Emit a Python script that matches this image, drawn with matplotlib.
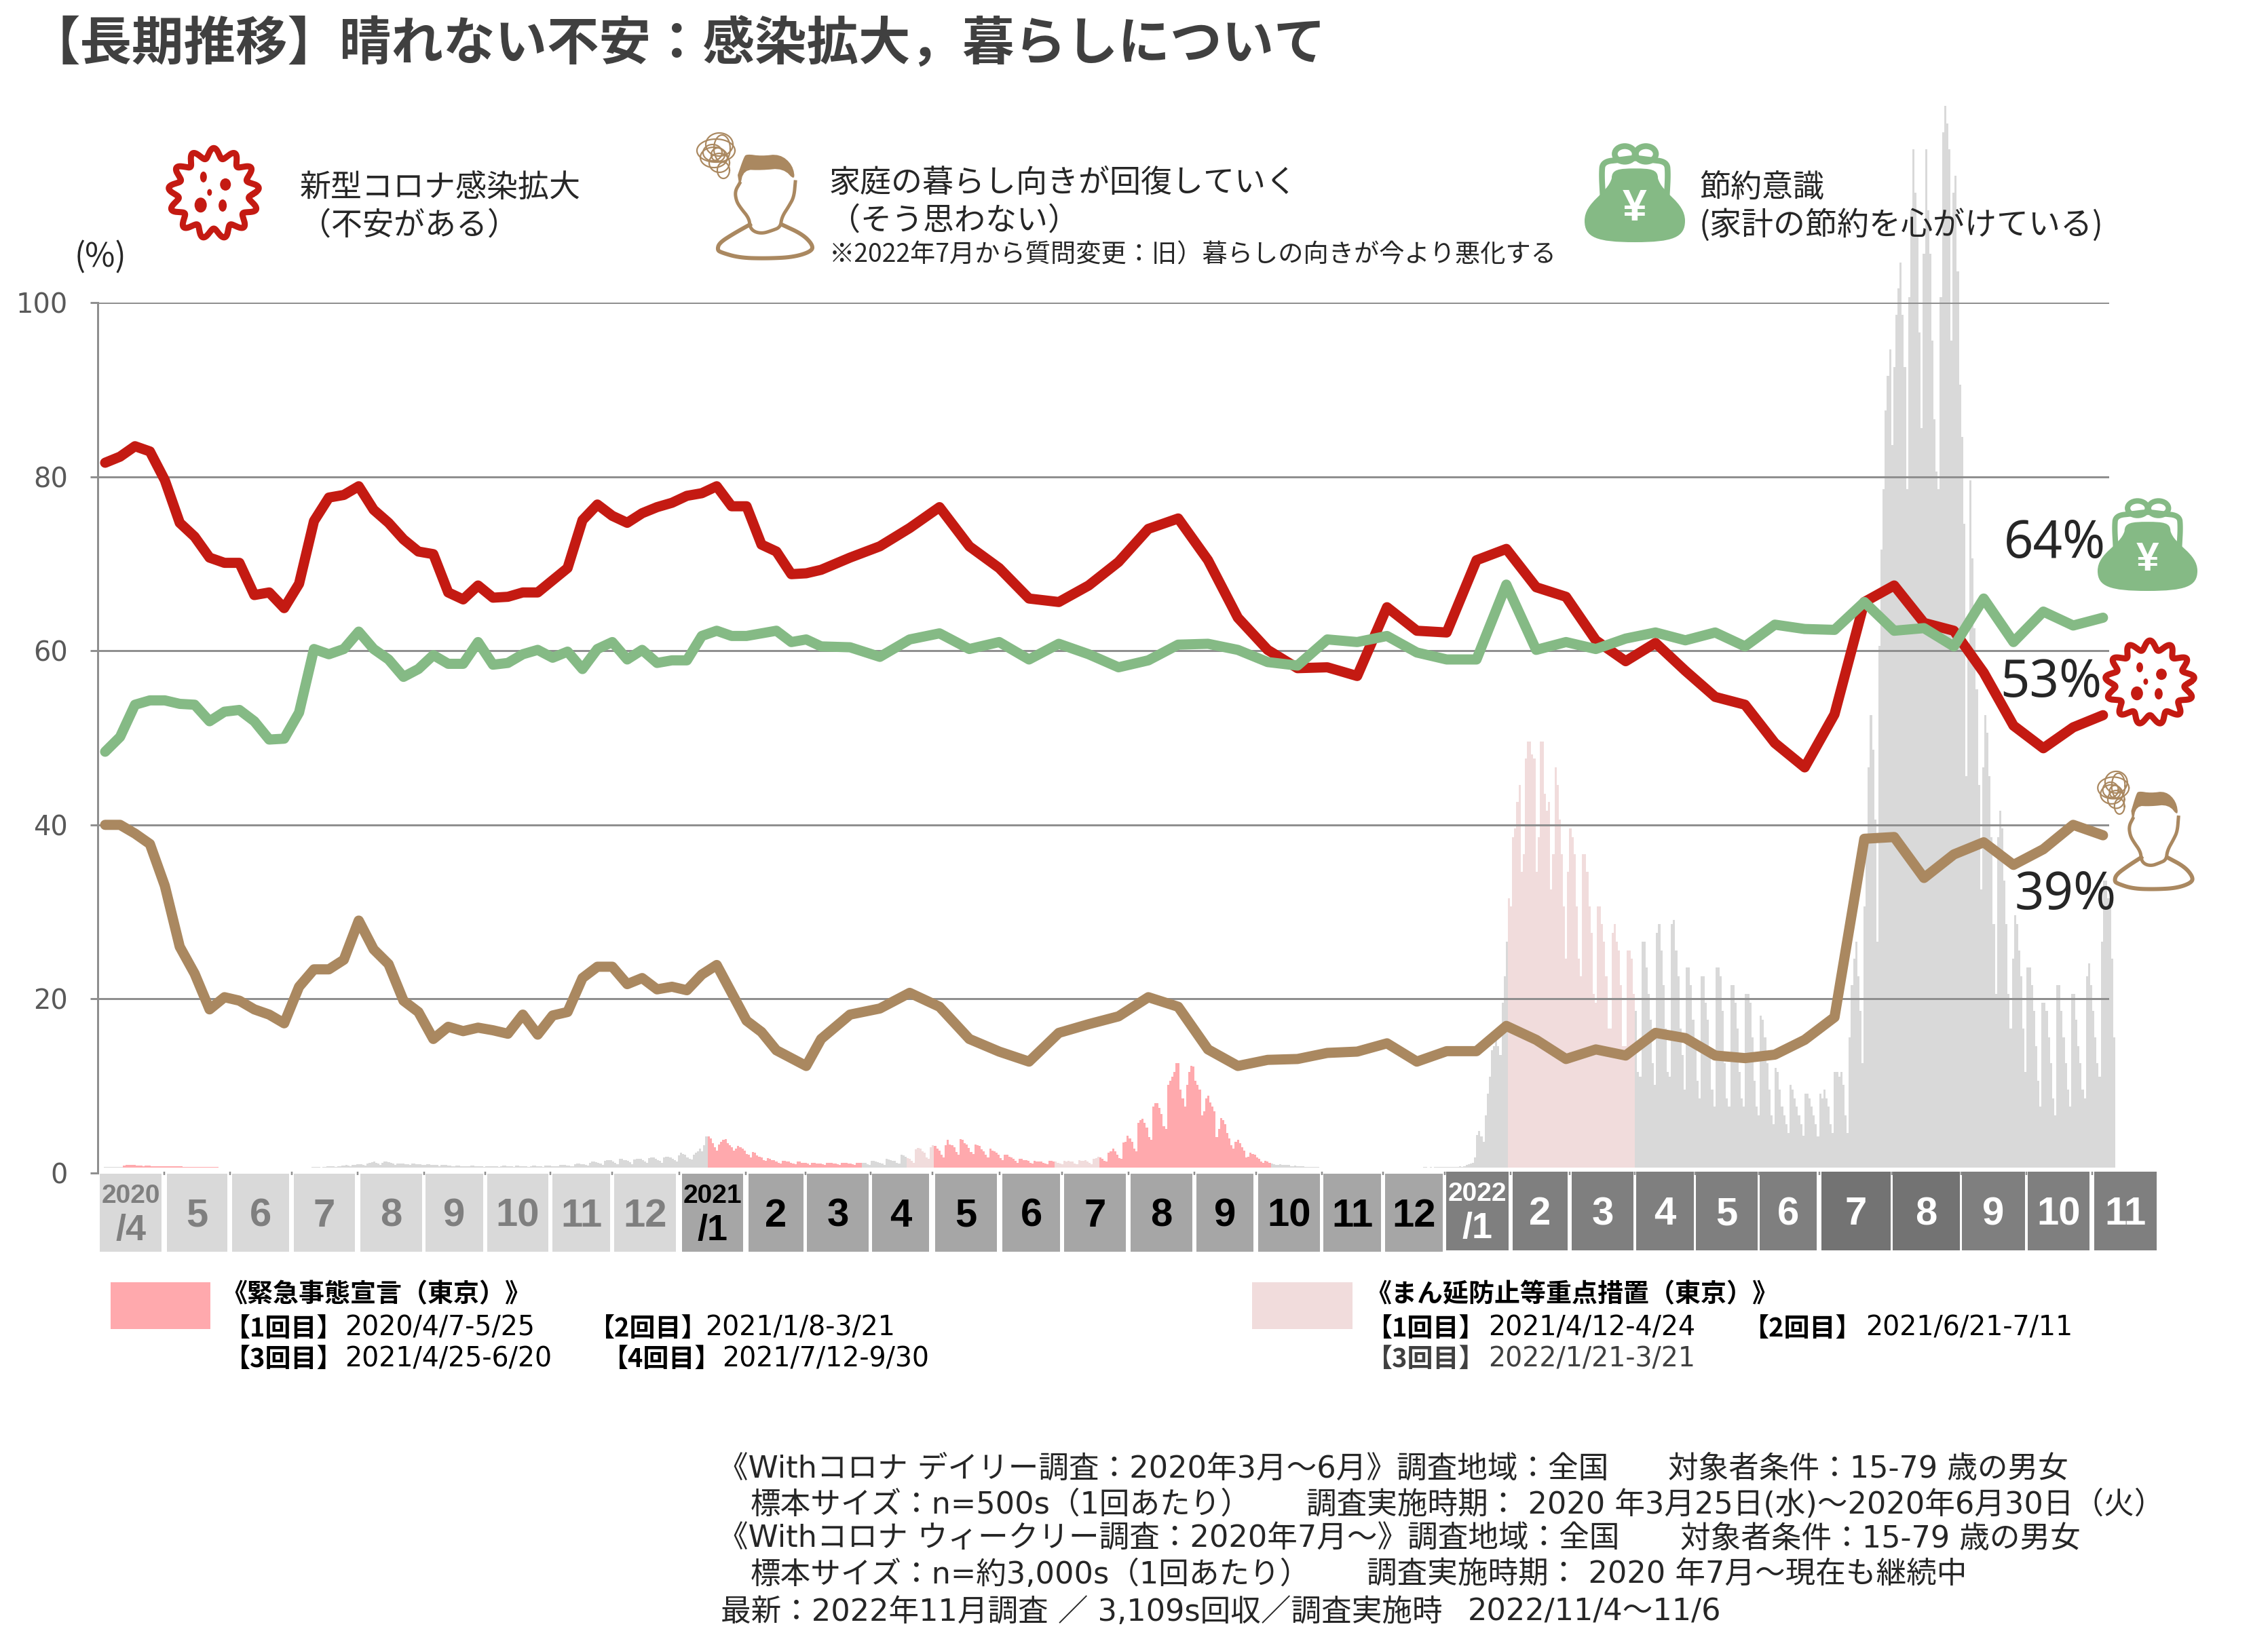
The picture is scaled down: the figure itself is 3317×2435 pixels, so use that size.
import numpy as np
import pandas as pd
import matplotlib
matplotlib.use("Agg")
import matplotlib.pyplot as plt
from matplotlib.patches import Rectangle, Ellipse, PathPatch
from matplotlib.path import Path

plt.rcParams['font.family'] = ['Noto Sans CJK JP', 'DejaVu Sans']

W, H = 3317, 2435
DPI = 100
PT = 72 / DPI  # points per output pixel

# ---------- survey results (%) ----------
virus_weekly = [81.6, 82.3, 83.5, 82.9, 79.6, 74.7, 73.1, 70.7, 70.1, 70.1, 66.4, 66.7, 64.9, 67.7, 74.9, 77.6,
                77.9, 78.9, 76.2, 74.7, 72.8, 71.4, 71.1, 66.7, 65.9, 67.5, 66.1, 66.2, 66.7, 66.7, 68.1, 69.5,
                75.0, 76.8, 75.5, 74.7, 75.8, 76.5, 77.0, 77.8, 78.1, 78.9, 76.6, 76.6, 72.2, 71.4, 68.8, 68.9, 69.3]
virus_biweekly = [70.7, 72.0, 74.1, 76.5, 72.0, 69.5, 66.0, 65.6, 67.5, 70.2, 74.0, 75.2, 70.4, 63.8, 60.1, 58.0,
                  58.1, 57.1, 65.0, 62.3, 62.1, 70.4, 71.7, 67.3, 66.2, 61.2, 58.8, 60.9, 57.7, 54.7, 53.8, 49.4,
                  46.6, 52.7, 65.6, 67.5, 63.2, 62.3, 57.5, 51.4, 48.8, 51.2, 52.6]
saving_weekly = [48.4, 50.1, 53.8, 54.3, 54.3, 53.9, 53.8, 51.9, 53.0, 53.2, 51.9, 49.8, 49.9, 52.9, 60.2, 59.6,
                 60.2, 62.2, 60.2, 59.0, 57.0, 57.9, 59.5, 58.5, 58.5, 61.0, 58.4, 58.6, 59.6, 60.1, 59.2, 59.9,
                 57.9, 60.2, 61.0, 59.0, 60.1, 58.6, 58.9, 58.9, 61.7, 62.3, 61.7, 61.7, 62.0, 62.3, 61.0, 61.3, 60.5]
saving_biweekly = [60.4, 59.3, 61.3, 62.0, 60.2, 61.0, 59.0, 60.8, 59.6, 58.1, 58.9, 60.7, 60.8, 60.1, 58.7, 58.3,
                   61.3, 61.0, 61.7, 59.8, 59.0, 59.0, 67.6, 60.1, 61.0, 60.2, 61.4, 62.1, 61.2, 62.1, 60.5, 63.0,
                   62.5, 62.4, 65.6, 62.3, 62.6, 60.5, 66.0, 61.0, 64.5, 62.9, 63.8]
living_weekly = [40.0, 40.0, 39.0, 37.8, 33.0, 26.0, 22.9, 18.8, 20.2, 19.8, 18.8, 18.2, 17.2, 21.4, 23.4, 23.4,
                 24.5, 29.0, 25.7, 24.0, 19.8, 18.5, 15.4, 16.8, 16.3, 16.7, 16.4, 16.0, 18.2, 15.9, 18.1, 18.5,
                 22.4, 23.7, 23.7, 21.7, 22.4, 21.1, 21.4, 21.0, 22.8, 23.9, 20.7, 17.5, 16.2, 14.1, 13.2, 12.3, 15.4]
living_biweekly = [18.2, 18.9, 20.7, 19.1, 15.4, 13.95, 12.8, 16.1, 17.1, 18.0, 20.2, 19.1, 14.2, 12.3, 13.0, 13.1,
                   13.8, 13.95, 14.9, 12.8, 14.0, 14.0, 16.9, 15.3, 13.1, 14.2, 13.5, 16.1, 15.5, 13.5, 13.2, 13.6,
                   15.3, 17.9, 38.4, 38.6, 33.9, 36.6, 38.0, 35.4, 37.2, 40.0, 38.8]

# Daily newly infected in Tokyo, on the scale of the percent axis, one row per week
first_case_day = -3
cases_to_jan2021 = [
    .1, .1, .1, .1, .1,
    .1, .1, .1, .1, .25, .3, .3,
    .3, .3, .3, .25, .25, .25, .2,
    .25, .25, .25, .2, .2, .2, .15,
    .2, .2, .2, .2, .15, .15, .15,
    .15, .15, .15, .15, .1, .1, .1,
    .1, .1, .1, .1, .1, .1, .1,
    .1, .1, .1, .1, .1, .1, .1,
    .05, .05, .05, .05, .05, .05, .05,
    .05, .05, .05, .05, .05, .05, .05,
    .05, .05, .05, .05, .05, .05, .05,
    .05, .05, .05, .05, .05, .05, .05,
    .05, .05, .05, .05, .05, .05, .05,
    .05, .05, .05, .05, .05, .05, .05,
    .05, .05, .1, .1, .1, .1, .05,
    .1, .1, .15, .15, .15, .15, .1,
    .2, .2, .25, .25, .3, .25, .15,
    .3, .35, .4, .4, .4, .35, .25,
    .5, .6, .65, .7, .6, .5, .35,
    .6, .7, .7, .65, .6, .5, .35,
    .5, .5, .5, .5, .45, .4, .3,
    .5, .5, .45, .4, .4, .35, .3,
    .4, .4, .35, .35, .3, .3, .2,
    .3, .3, .3, .25, .25, .2, .15,
    .25, .25, .2, .2, .2, .15, .15,
    .25, .25, .2, .2, .2, .15, .1,
    .2, .2, .2, .2, .15, .15, .1,
    .2, .25, .25, .2, .2, .15, .1,
    .25, .25, .2, .2, .2, .15, .1,
    .2, .25, .25, .2, .2, .15, .1,
    .25, .25, .25, .2, .2, .2, .15,
    .3, .3, .3, .25, .25, .2, .15,
    .4, .5, .5, .45, .4, .35, .25,
    .6, .7, .7, .65, .6, .5, .35,
    .8, .9, .9, .85, .75, .6, .4,
    1.0, 1.0, .9, .9, .8, .65, .45,
    .95, 1.0, 1.05, 1.0, .85, .7, .55,
    1.1, 1.2, 1.2, 1.05, .9, .8, .6,
    1.2, 1.3, 1.3, 1.2, 1.0, .9, .7,
    1.4, 1.7, 1.6, 1.5, 1.2, 1.0, .95,
    1.5, 1.7, 1.9, 2.2, 1.9, 2.6, 3.6,
]
cases_to_jan2022 = [
    3.6, 3.4, 2.8, 2.4, 2.0, 2.7, 3.0,
    3.2, 3.3, 2.8, 2.6, 2.4, 2.0, 2.2,
    2.5, 2.4, 2.2, 2.0, 1.6, 1.5, 1.2,
    1.8, 1.7, 1.4, 1.3, 1.2, .9, .8,
    1.1, 1.0, .9, .9, .7, .6, .5,
    .8, .8, .7, .7, .6, .5, .4,
    .7, .7, .6, .6, .6, .5, .35,
    .6, .6, .5, .5, .5, .4, .35,
    .6, .55, .55, .5, .5, .4, .3,
    .6, .6, .55, .5, .5, .4, .3,
    .6, .6, .6, .55, .55, .4, .3,
    .8, .8, .7, .65, .6, .5, .3,
    1.0, .95, .9, .8, .8, .6, .5,
    1.5, 1.4, 1.3, 1.1, 1.0, .8, .6,
    2.1, 2.3, 2.2, 1.9, 1.7, 1.2, 1.0,
    2.4, 2.6, 2.5, 2.2, 2.0, 1.5, 1.2,
    2.6, 3.2, 2.7, 2.6, 2.4, 1.8, 1.5,
    3.3, 3.2, 2.8, 2.7, 2.3, 1.8, 1.6,
    2.7, 2.6, 2.5, 2.1, 1.9, 1.5, 1.2,
    2.2, 2.0, 1.9, 1.7, 1.5, 1.1, .9,
    1.5, 1.5, 1.3, 1.2, 1.0, .8, .6,
    1.0, 1.0, .9, .9, .8, .6, .5,
    .8, .7, .7, .7, .6, .5, .4,
    .8, .8, .7, .7, .6, .5, .4,
    .8, .7, .8, .7, .7, .5, .4,
    .9, .8, .8, .9, .7, .6, .4,
    1.0, 1.1, 1.3, 1.2, 1.0, .8, .7,
    1.7, 1.9, 2.2, 1.9, 1.5, 1.1, 1.0,
    2.9, 3.0, 3.7, 3.4, 3.0, 2.2, 1.9,
    5.2, 5.5, 5.6, 5.2, 4.6, 3.5, 3.2,
    7.0, 7.4, 7.4, 6.9, 6.2, 4.8, 4.5,
    9.5, 10.0, 10.5, 11.0, 12.0, 12.0, 9.0,
    8.0, 7.0, 9.5, 11.0, 11.7, 11.6, 10.0,
    9.5, 9.0, 6.0, 6.5, 8.0, 8.3, 7.5,
    7.0, 6.5, 3.5, 4.5, 5.7, 5.5, 5.0,
    4.0, 3.4, 2.6, 2.2, 3.0, 3.2, 2.8,
    2.4, 2.0, 1.2, 1.3, 1.7, 1.6, 1.5,
    1.2, 1.0, .7, .6, .8, .7, .6,
    .5, .45, .3, .3, .4, .35, .3,
    .3, .3, .2, .2, .25, .2, .15,
    .2, .15, .1, .1, .1, .1, .1,
    .1, .1, .05, .05, .05, .05, .05,
    .05, .05, .05, .05, .05, .05, .05,
    .05, .05, .05, .05, .05, .05, .05,
    .05, .05, .05, .05, .05, .05, .05,
    .05, .05, .05, .05, .05, .05, .05,
    .05, .05, .05, .05, .05, .05, .05,
    .05, .05, .05, .05, .05, .05, .05,
    .05, .05, .1, .1, .05, .1, .05,
    .1, .1, .1, .1, .1, .1, .1,
]
cases_to_nov2022 = [
    .1, .1, .1, .1, .1, .15, .1,
    .2, .3, .4, .5, .6, 1.2, 3.8,
    4.2, 3.6, 3.0, 6.0, 8.5, 10.5, 13.5,
    14, 15, 14, 13, 19, 22, 26,
    31, 30, 38, 39, 42, 44, 34,
    36, 47, 49, 49, 47.5, 47, 34,
    38, 49, 49, 43, 41, 42, 32,
    36, 46, 44, 40, 36, 30, 24,
    34, 39, 38, 36, 30, 24, 22,
    36, 36, 34, 30, 27, 20, 19,
    30, 30, 28, 26, 22, 16, 16,
    27, 28, 26, 25, 21, 14, 14,
    25, 25, 24, 20, 18, 11, 10.5,
    26, 26, 23, 20, 17, 12, 9.5,
    27, 28, 25, 21, 16, 11, 10.5,
    28, 28.5, 25, 22, 16, 13, 9,
    23, 23, 21, 17, 14, 10, 8,
    22, 22, 19, 17, 13, 9, 7,
    23, 23, 22, 18, 12, 8, 7,
    21, 21, 19, 16, 11, 8, 7,
    20, 20, 19, 15, 10, 7, 6,
    17.5, 17, 15, 12, 9, 6, 5,
    11.5, 11, 9, 7, 6, 5, 4,
    9.5, 9, 8, 7, 6, 5, 3.7,
    8.5, 8.5, 8, 7, 6, 5, 3.6,
    8.5, 8, 9, 8, 7, 5, 4,
    11, 11, 10.5, 11, 9.5, 6, 4,
    15, 21, 24, 26, 22, 18, 12,
    30, 37, 46, 52, 48, 40, 26,
    60, 71, 78, 87, 91, 94, 83,
    92, 98, 101, 104, 98, 92, 78,
    100, 110, 117, 112, 107, 96, 85,
    105, 117, 110, 105, 95, 86, 80,
    78, 100, 119, 122, 120, 117, 95,
    112, 114, 103, 90, 84, 74, 45,
    60, 79, 70, 62, 55, 44, 32,
    46, 52, 50, 45, 38, 28, 20,
    38, 41, 39, 33, 28, 20, 16,
    24, 29, 28, 25, 22, 16, 11,
    23, 23, 21, 18, 14, 10, 7,
    19, 19, 18, 15, 12, 8, 6,
    21, 21, 18, 15, 12, 9, 7,
    20, 20, 17, 14, 12, 9, 8,
    22, 23.5, 21, 18, 15, 12, 10.5,
    26, 33, 33, 31, 31, 24, 15,
]

emergency_periods = [("2020-04-07", "2020-05-25"), ("2021-01-08", "2021-03-21"),
                     ("2021-04-25", "2021-06-20"), ("2021-07-12", "2021-09-30")]
priority_periods = [("2021-04-12", "2021-04-24"), ("2021-06-21", "2021-07-11"),
                    ("2022-01-21", "2022-03-21")]

y_ticks = [0, 20, 40, 60, 80, 100]

month_labels = ["5", "6", "7", "8", "9", "10", "11", "12",
                "2", "3", "4", "5", "6", "7", "8", "9", "10", "11", "12",
                "2", "3", "4", "5", "6", "7", "8", "9", "10", "11"]

# ---------- colours ----------
RED, GREEN, BROWN = "#C41A12", "#85BA85", "#AA8860"
PINK, BLUSH, CASE_GREY = "#FFA9AD", "#F1DCDC", "#D9D9D9"
GRID = "#8F8F8F"
INK = "#262626"

# ---------- figure and pixel-space overlay ----------
fig = plt.figure(figsize=(W / DPI, H / DPI), dpi=DPI, facecolor="white")
AX_L, AX_R, AX_T, AX_B = 144, 3108, 446, 1729
ax = fig.add_axes([AX_L / W, 1 - AX_B / H, (AX_R - AX_L) / W, (AX_B - AX_T) / H])
ov = fig.add_axes([0, 0, 1, 1], zorder=5)
ov.set_xlim(0, W)
ov.set_ylim(H, 0)
ov.axis("off")
ov.patch.set_alpha(0)

# Horizontal scale: one day is 3.12 px, with 2020-04-01 as day 0
DAY_PX, DAY0_PX = 3.12, 164.3
ax.set_xlim((AX_L - DAY0_PX) / DAY_PX, (AX_R - DAY0_PX) / DAY_PX)
ax.set_ylim(0, 100)

# ---------- daily cases ----------
cases = np.array(cases_to_jan2021 + cases_to_jan2022 + cases_to_nov2022)
case_days = first_case_day + np.arange(len(cases))
origin = pd.Timestamp("2020-04-01")


def to_day(text):
    return (pd.Timestamp(text) - origin).days


case_colors = np.array([CASE_GREY] * len(cases), dtype=object)
for start, end in priority_periods:
    case_colors[(case_days >= to_day(start)) & (case_days <= to_day(end))] = BLUSH
for start, end in emergency_periods:
    case_colors[(case_days >= to_day(start)) & (case_days <= to_day(end))] = PINK
CASE_BASE = 0.6
ax.bar(case_days, cases, width=1.0, bottom=CASE_BASE, color=list(case_colors), linewidth=0,
       clip_on=False, zorder=1, antialiased=False)

# ---------- axes furniture ----------
for side in ("top", "right", "bottom"):
    ax.spines[side].set_visible(False)
ax.spines["left"].set_color(GRID)
ax.spines["left"].set_linewidth(3 * PT)
ax.set_xticks([])
ax.set_yticks(y_ticks)
ax.tick_params(axis="y", length=11 * PT, width=3 * PT, color=GRID, labelsize=40 * PT,
               labelcolor="#595959", pad=33 * PT)
for label in ax.get_yticklabels():
    label.set_fontfamily("DejaVu Sans")
for v in y_ticks[1:]:
    ax.axhline(v, color=GRID, lw=3 * PT, zorder=2)

# ---------- survey lines ----------
survey_days = np.concatenate([-3 + 7.045 * np.arange(len(virus_weekly)),
                              348.8 + 14.09 * np.arange(len(virus_biweekly))])
line_style = dict(lw=15 * PT, solid_capstyle="round", solid_joinstyle="round", clip_on=False)
virus = virus_weekly + virus_biweekly
saving = saving_weekly + saving_biweekly
living = living_weekly + living_biweekly
ax.plot(survey_days, virus, color=RED, zorder=3, **line_style)
ax.plot(survey_days, living, color=BROWN, zorder=3, **line_style)
ax.plot(survey_days, saving, color=GREEN, zorder=4, **line_style)


# ---------- pictograms, all in output pixels ----------
def smooth(points, rounds=3):
    p = np.asarray(points, float)
    for _ in range(rounds):
        q = 0.75 * p[:-1] + 0.25 * p[1:]
        r = 0.25 * p[:-1] + 0.75 * p[1:]
        p = np.vstack([p[:1], np.column_stack([q, r]).reshape(-1, 2), p[-1:]])
    return p


def virus_icon(cx, cy, rx, ry):
    theta = np.linspace(0, 2 * np.pi, 721)
    wave = 1 + 0.125 * np.cos(13 * theta + np.pi / 2)
    ov.plot(cx + rx * 0.86 * wave * np.cos(theta), cy + ry * 0.86 * wave * np.sin(theta),
            color=RED, lw=9 * PT, solid_joinstyle="round")
    for dx, dy, rad_x, rad_y in [(-.22, -.35, 5, 8), (.25, -.19, 8, 9), (-.09, -.02, 3.5, 5),
                                 (-.28, .25, 9, 11), (.19, .26, 6, 9)]:
        ov.add_patch(Ellipse((cx + dx * rx, cy + dy * ry), 2 * rad_x * rx / 69, 2 * rad_y * ry / 69,
                             color=RED, lw=0))


def man_icon(x0, y0, sx, sy):
    def place(points):
        p = np.asarray(points, float)
        return np.column_stack([x0 + (p[:, 0] - 1056) * sx, y0 + (p[:, 1] - 228) * sy])

    hair = smooth([(1087, 258), (1096, 232), (1100, 227), (1122, 230), (1149, 227), (1168, 243), (1172, 267),
                   (1154, 248), (1122, 251), (1096, 250), (1090, 277), (1087, 258)], 2)
    ov.fill(*place(hair).T, color=BROWN, lw=0)
    face_left = [(1090, 270), (1083, 282), (1085, 296), (1091, 306), (1104, 322), (1105, 335), (1112, 342),
                 (1124, 344), (1137, 340), (1150, 335), (1152, 320), (1163, 303), (1170, 290), (1172, 268)]
    ov.plot(*place(smooth(face_left)).T, color=BROWN, lw=5 * PT)
    body = [(1105, 331), (1080, 345), (1060, 358), (1057, 368), (1062, 372), (1090, 380), (1130, 381),
            (1170, 379), (1197, 370), (1197, 360), (1182, 345), (1152, 331)]
    ov.plot(*place(smooth(body)).T, color=BROWN, lw=6 * PT)
    loops = [(1060, 213, 20, 17), (1055, 222, 28, 17), (1052, 232, 20, 15), (1060, 240, 15, 14),
             (1066, 251, 9, 12), (1050, 225, 14, 12), (1058, 228, 10, 10), (1064, 219, 12, 20)]
    theta = np.linspace(0, 2 * np.pi, 80)
    for cx, cy, rad_x, rad_y in loops:
        ov.plot(*place(np.column_stack([cx + rad_x * np.cos(theta), cy + rad_y * np.sin(theta)])).T,
                color=BROWN, lw=2.2 * PT)


def purse_icon(x0, y0, w, h):
    def unit(points):
        p = np.asarray(points, float)
        return np.column_stack([x0 + p[:, 0] * w, y0 + p[:, 1] * h])

    C = Path.CURVE4
    body_pts = [(.27, .34), (.23, .50), (0, .58), (0, .78), (0, .95), (.12, 1), (.5, 1), (.88, 1), (1, .95),
                (1, .78), (1, .58), (.77, .50), (.73, .34), (.73, .25), (.66, .24), (.5, .24), (.34, .24),
                (.27, .25), (.27, .34)]
    ov.add_patch(PathPatch(Path(unit(body_pts), [Path.MOVETO] + [C] * 18), fc=GREEN, ec="none"))
    frame = [(.18, .50), (.17, .30), (.18, .17), (.36, .15), (.50, .13), (.64, .15), (.82, .17), (.83, .30), (.82, .50)]
    ov.plot(*unit(smooth(frame)).T, color=GREEN, lw=h * .06 * PT)
    for cx in (.40, .61):
        ov.add_patch(Ellipse(tuple(unit([(cx, .09)])[0]), .2 * w, .16 * h, fc="white", ec=GREEN, lw=h * .06 * PT))
    ov.text(x0 + .5 * w, y0 + .66 * h, "¥", color="white", fontsize=h * .45 * PT, fontweight="bold",
            ha="center", va="center", family=["Liberation Sans"])


virus_icon(315, 285, 69, 69)
virus_icon(3168, 1006, 68, 64)
man_icon(1056, 228, 1.0, 1.0)
man_icon(3115, 1167, 0.82, 0.94)
purse_icon(2335, 214, 148, 143)
purse_icon(3091, 737, 147, 134)

# ---------- end-of-line values ----------
label_style = dict(color=INK, fontsize=76 * PT, family=["Noto Sans", "DejaVu Sans"], va="center", ha="left")
ov.text(2953, 802, f"{saving[-1]:.0f}%", **label_style)
ov.text(2947, 1007, f"{virus[-1]:.0f}%", **label_style)
ov.text(2969, 1320, f"{living[-1]:.0f}%", **label_style)

# ---------- month tiles ----------
tile_edges = [(147, 238), (246, 335), (342, 426), (433, 523), (531, 622), (627, 712), (718, 808), (814, 899),
              (905, 996), (1005, 1095), (1103, 1184), (1189, 1280), (1285, 1369), (1378, 1469), (1477, 1562),
              (1568, 1659), (1666, 1757), (1763, 1847), (1854, 1945), (1950, 2035), (2041, 2126), (2131, 2223),
              (2229, 2310), (2316, 2407), (2411, 2496), (2499, 2590), (2593, 2677), (2684, 2786), (2789, 2888),
              (2891, 2984), (2988, 3079), (3086, 3178)]
tile_first_labels = {0: ("2020", "/4"), 9: ("2021", "/1"), 21: ("2022", "/1")}
labels_iter = iter(month_labels)
for i, (left, right) in enumerate(tile_edges):
    if i < 9:
        fc, tc, top, bottom = "#D9D9D9", "#7F7F7F", 1730, 1845
    elif i < 21:
        fc, tc, top, bottom = "#A6A6A6", "black", 1730, 1845
    else:
        fc, tc, top, bottom = "#7F7F7F", "white", 1727, 1843
        if i in (27, 28):
            fc = "#737373"
    ov.add_patch(Rectangle((left, top), right - left, bottom - top, fc=fc, ec="none"))
    mid = (left + right) / 2
    bold = dict(color=tc, fontweight="bold", ha="center", va="center", family=["Liberation Sans"])
    if i in tile_first_labels:
        year, month = tile_first_labels[i]
        ov.text(mid, top + 33, year, fontsize=39 * PT, **bold)
        ov.text(mid, top + 84, month, fontsize=54 * PT, **bold)
    else:
        ov.text(mid, top + 63, next(labels_iter), fontsize=58 * PT, **bold)
    if i:
        gap = (tile_edges[i - 1][1] + left) / 2
        ov.plot([gap, gap], [1727, 1732], color=GRID, lw=2.5 * PT, solid_capstyle="butt")

# ---------- heading and legends ----------
ov.text(42, 66, "【長期推移】晴れない不安：感染拡大，暮らしについて", color="#404040", fontsize=76.5 * PT,
        fontweight="bold", va="center", ha="left")
body = dict(color=INK, fontsize=46 * PT, va="center", ha="left")
ov.text(442, 277, "新型コロナ感染拡大", **body)
ov.text(442, 332, "（不安がある）", **body)
ov.text(1222, 270, "家庭の暮らし向きが回復していく", **body)
ov.text(1222, 325, "（そう思わない）", **body)
ov.text(1222, 376, "※2022年7月から質問変更：旧）暮らしの向きが今より悪化する", color=INK, fontsize=37.2 * PT,
        va="center", ha="left")
ov.text(2504, 277, "節約意識", **body)
ov.text(2504, 332, "(家計の節約を心がけている)", color=INK, fontsize=47 * PT, va="center", ha="left")
ov.text(110, 380, "(%)", color=INK, fontsize=48 * PT, va="center", ha="left")

ov.add_patch(Rectangle((163, 1890), 147, 69, fc=PINK, ec="none"))
ov.add_patch(Rectangle((1845, 1890), 148, 69, fc=BLUSH, ec="none"))
legend_heads = [(326, 1908, "《緊急事態宣言（東京）》", "black"), (2012, 1908, "《まん延防止等重点措置（東京）》", "black"),
                (331, 1958, "【1回目】", "black"), (868, 1958, "【2回目】", "black"),
                (331, 2003, "【3回目】", "black"), (888, 2003, "【4回目】", "black"),
                (2014, 1958, "【1回目】", "black"), (2569, 1958, "【2回目】", "black"),
                (2014, 2003, "【3回目】", "#404040")]
legend_dates = [(508, 1958, "2020/4/7-5/25", "black"), (1039, 1958, "2021/1/8-3/21", "black"),
                (508, 2003, "2021/4/25-6/20", "black"), (1064, 2003, "2021/7/12-9/30", "black"),
                (2193, 1958, "2021/4/12-4/24", "black"), (2749, 1958, "2021/6/21-7/11", "black"),
                (2193, 2003, "2022/1/21-3/21", "#404040")]
for x, y, text, color in legend_heads:
    ov.text(x, y, text, fontsize=38 * PT, fontweight="bold", color=color, va="center", ha="left")
for x, y, text, color in legend_dates:
    ov.text(x, y, text, fontsize=39.5 * PT, color=color, va="center", ha="left", family=["DejaVu Sans"])

# ---------- survey notes ----------
note_rows = [
    (1058, 2165, "《Withコロナ デイリー調査：2020年3月～6月》調査地域：全国"),
    (2458, 2165, "対象者条件：15-79 歳の男女"),
    (1106, 2218, "標本サイズ：n=500s（1回あたり）"),
    (1925, 2218, "調査実施時期： 2020 年3月25日(水)～2020年6月30日（火）"),
    (1058, 2268, "《Withコロナ ウィークリー調査：2020年7月～》調査地域：全国"),
    (2476, 2268, "対象者条件：15-79 歳の男女"),
    (1106, 2321, "標本サイズ：n=約3,000s（1回あたり）"),
    (2014, 2321, "調査実施時期： 2020 年7月～現在も継続中"),
    (1062, 2376, "最新：2022年11月調査 ／ 3,109s回収／調査実施時"),
    (2163, 2376, "2022/11/4～11/6"),
]
for x, y, text in note_rows:
    ov.text(x, y, text, fontsize=44.6 * PT, color=INK, va="center", ha="left",
            family=["DejaVu Sans", "Noto Sans CJK JP"])

fig.savefig("out.png", dpi=DPI)
